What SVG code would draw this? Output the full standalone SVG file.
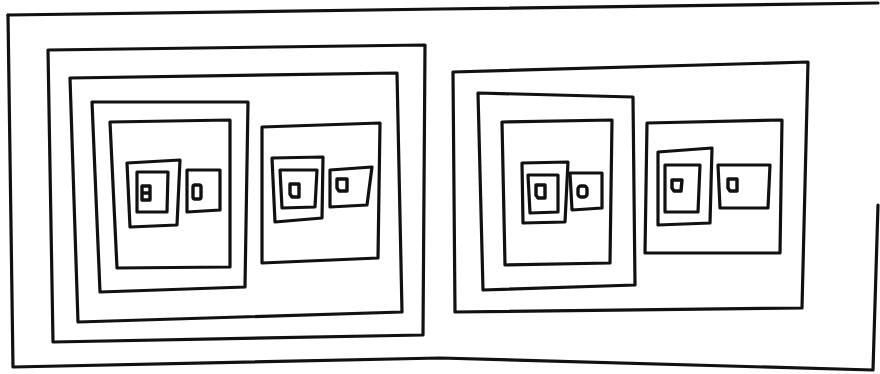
<svg xmlns="http://www.w3.org/2000/svg" width="880" height="374" viewBox="0 0 880 374">
<style>
.s{fill:none;stroke:#111;stroke-width:3.2;stroke-linejoin:round;stroke-linecap:round}
.t{fill:none;stroke:#111;stroke-width:3.4;stroke-linejoin:round;stroke-linecap:round}
</style>
<rect width="880" height="374" fill="#fff"/>
<g id="frame">
<path class="s" d="M8,15 L440,9 L878,3"/>
<path class="s" d="M8,15 L13,367 L440,358 L873,370 L878,205"/>
</g>
<g id="left-panel">
<polygon class="s" points="48,50 425,45 423,335 53,342"/>
<g id="left-inner">
<polygon class="s" points="70,78 397,73 402,312 78,322"/>
<g id="left-a">
<polygon class="s" points="92,102 248,102 245,287 100,292"/>
<polygon class="s" points="110,122 230,120 230,267 117,268"/>
<g id="left-a-1">
<polygon class="s" points="127,163 180,160 177,225 130,227"/>
<polygon class="s" points="137,172 168,172 167,212 137,212"/>
<path class="t" d="M142,186 h8 v14 h-8 z M142,193 h8"/>
</g>
<g id="left-a-2">
<polygon class="s" points="187,170 220,170 220,210 187,212"/>
<rect class="t" x="193" y="185" width="8" height="14" rx="2"/>
</g>
</g>
<g id="left-b">
<polygon class="s" points="262,127 380,123 378,258 262,263"/>
<g id="left-b-1">
<polygon class="s" points="272,158 323,157 322,218 275,222"/>
<polygon class="s" points="280,170 317,170 315,207 282,208"/>
<path class="t" d="M290,184 h9 v13 h-7 l-2,-3 z"/>
</g>
<g id="left-b-2">
<polygon class="s" points="330,170 372,167 367,205 330,207"/>
<path class="t" d="M337,179 h10 v12 h-8 l-2,-3 z"/>
</g>
</g>
</g>
</g>
<g id="right-panel">
<polygon class="s" points="453,72 808,62 802,308 455,312"/>
<g id="right-a">
<polygon class="s" points="478,93 633,97 635,285 483,290"/>
<polygon class="s" points="502,122 612,120 610,263 505,265"/>
<g id="right-a-1">
<polygon class="s" points="522,163 568,162 565,222 523,223"/>
<polygon class="s" points="528,175 558,175 558,212 530,213"/>
<path class="t" d="M536,185 h9 v13 h-7 l-2,-3 z"/>
</g>
<g id="right-a-2">
<polygon class="s" points="570,173 602,173 602,208 572,210"/>
<rect class="t" x="578" y="186" width="9" height="11" rx="3"/>
</g>
</g>
<g id="right-b">
<polygon class="s" points="647,123 782,120 780,253 645,253"/>
<g id="right-b-1">
<polygon class="s" points="658,152 712,148 710,223 658,225"/>
<polygon class="s" points="665,165 700,165 698,212 665,212"/>
<path class="t" d="M672,180 h10 l-1,11 h-7 l-2,-3 z"/>
</g>
<g id="right-b-2">
<polygon class="s" points="718,165 770,165 768,208 720,208"/>
<path class="t" d="M728,179 h9 v12 h-7 l-2,-3 z"/>
</g>
</g>
</g>
</svg>
